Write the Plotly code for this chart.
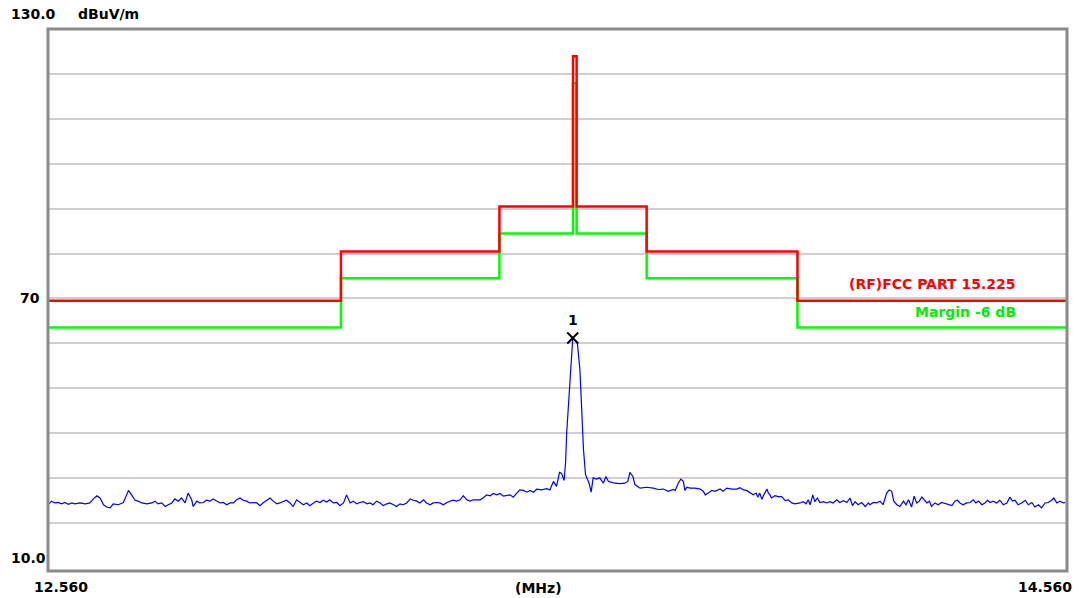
import plotly.graph_objects as go

# ---------------- data ----------------
freq_mhz = [
    12.560, 12.567, 12.574, 12.580, 12.587, 12.593, 12.600, 12.607, 12.613, 12.623,
    12.633, 12.642, 12.649, 12.656, 12.662, 12.669, 12.675, 12.682, 12.688, 12.698,
    12.708, 12.714, 12.718, 12.724, 12.731, 12.737, 12.744, 12.754, 12.764, 12.770,
    12.776, 12.783, 12.790, 12.796, 12.803, 12.809, 12.816, 12.822, 12.829, 12.835,
    12.842, 12.845, 12.852, 12.858, 12.865, 12.871, 12.878, 12.884, 12.891, 12.898,
    12.904, 12.911, 12.917, 12.924, 12.930, 12.937, 12.943, 12.950, 12.956, 12.963,
    12.970, 12.976, 12.983, 12.989, 12.996, 13.002, 13.009, 13.015, 13.022, 13.028,
    13.035, 13.041, 13.048, 13.055, 13.061, 13.068, 13.074, 13.081, 13.087, 13.094,
    13.100, 13.107, 13.113, 13.120, 13.127, 13.133, 13.140, 13.146, 13.153, 13.159,
    13.166, 13.172, 13.179, 13.186, 13.192, 13.198, 13.205, 13.212, 13.218, 13.225,
    13.231, 13.238, 13.244, 13.251, 13.257, 13.264, 13.271, 13.277, 13.284, 13.290,
    13.297, 13.303, 13.310, 13.316, 13.323, 13.329, 13.336, 13.343, 13.349, 13.355,
    13.362, 13.369, 13.375, 13.382, 13.388, 13.395, 13.401, 13.408, 13.414, 13.421,
    13.428, 13.434, 13.441, 13.447, 13.454, 13.460, 13.467, 13.473, 13.480, 13.486,
    13.493, 13.500, 13.506, 13.513, 13.519, 13.529, 13.539, 13.545, 13.552, 13.558,
    13.564, 13.568, 13.573, 13.576, 13.578, 13.581, 13.585, 13.588, 13.590, 13.594,
    13.599, 13.604, 13.608, 13.611, 13.615, 13.619, 13.622, 13.626, 13.630, 13.637,
    13.643, 13.650, 13.655, 13.660, 13.666, 13.673, 13.683, 13.692, 13.698, 13.702,
    13.708, 13.712, 13.722, 13.735, 13.748, 13.758, 13.768, 13.777, 13.787, 13.791,
    13.797, 13.802, 13.807, 13.810, 13.814, 13.820, 13.830, 13.840, 13.846, 13.850,
    13.856, 13.863, 13.869, 13.879, 13.885, 13.892, 13.902, 13.912, 13.918, 13.925,
    13.931, 13.938, 13.944, 13.950, 13.953, 13.957, 13.961, 13.965, 13.971, 13.974,
    13.977, 13.980, 13.987, 13.993, 14.000, 14.007, 14.013, 14.020, 14.026, 14.036,
    14.042, 14.048, 14.052, 14.056, 14.061, 14.065, 14.070, 14.075, 14.082, 14.088,
    14.095, 14.101, 14.108, 14.114, 14.121, 14.128, 14.134, 14.139, 14.144, 14.150,
    14.157, 14.164, 14.170, 14.173, 14.180, 14.186, 14.193, 14.199, 14.206, 14.211,
    14.216, 14.220, 14.226, 14.232, 14.239, 14.244, 14.249, 14.255, 14.260, 14.265,
    14.270, 14.275, 14.279, 14.285, 14.290, 14.294, 14.301, 14.307, 14.314, 14.321,
    14.327, 14.334, 14.340, 14.345, 14.350, 14.356, 14.363, 14.370, 14.376, 14.381,
    14.386, 14.393, 14.399, 14.404, 14.409, 14.415, 14.422, 14.428, 14.435, 14.442,
    14.448, 14.453, 14.458, 14.464, 14.471, 14.478, 14.484, 14.491, 14.497, 14.504,
    14.510, 14.517, 14.523, 14.530, 14.534, 14.540, 14.546, 14.553, 14.557,
]

level_dbuv = [
    24.0, 24.8, 24.4, 24.5, 24.2, 24.5, 24.1, 24.4, 24.2, 24.4,
    24.2, 24.4, 25.3, 26.0, 25.5, 24.0, 23.5, 23.3, 24.2, 24.0,
    24.5, 25.9, 27.2, 26.2, 25.0, 24.8, 24.4, 24.2, 24.4, 24.8,
    24.2, 24.4, 23.6, 24.0, 24.4, 25.3, 24.8, 25.5, 24.4, 26.6,
    25.1, 23.6, 24.8, 24.4, 24.5, 25.0, 24.8, 25.3, 24.8, 24.4,
    24.5, 24.0, 24.4, 24.4, 25.1, 25.5, 25.0, 24.8, 24.4, 24.5,
    24.4, 23.8, 24.5, 25.0, 25.5, 24.8, 24.2, 24.4, 24.8, 25.0,
    24.4, 23.6, 25.1, 24.4, 24.0, 24.4, 23.8, 24.4, 24.8, 24.5,
    25.0, 24.6, 25.1, 24.4, 24.5, 23.8, 24.4, 26.2, 24.4, 24.8,
    24.2, 24.5, 24.7, 24.2, 24.4, 24.0, 24.8, 24.4, 23.8, 24.2,
    24.4, 24.0, 23.6, 24.2, 24.0, 24.4, 25.3, 25.0, 24.8, 24.4,
    25.1, 24.4, 24.0, 24.4, 24.5, 24.4, 24.0, 24.5, 24.8, 25.0,
    24.8, 25.1, 26.0, 25.1, 24.8, 25.1, 25.1, 25.1, 25.5, 26.2,
    26.0, 26.5, 26.2, 26.5, 25.9, 26.0, 26.2, 25.7, 26.5, 27.3,
    27.2, 26.8, 27.2, 26.8, 27.5, 27.3, 27.6, 27.3, 29.2, 28.1,
    31.2, 31.0, 29.4, 33.7, 40.0, 45.9, 51.5, 57.8, 61.2, 60.7,
    60.0, 54.1, 45.2, 36.3, 30.7, 29.6, 28.8, 26.8, 30.0, 29.7,
    30.0, 28.8, 30.3, 29.2, 29.0, 28.8, 28.7, 28.8, 29.2, 31.2,
    30.3, 28.5, 27.7, 27.9, 27.7, 27.4, 27.5, 27.0, 27.4, 27.2,
    28.8, 29.7, 29.2, 27.2, 27.9, 27.7, 27.7, 27.5, 27.0, 26.2,
    26.6, 27.2, 27.0, 27.5, 27.0, 27.7, 27.5, 27.5, 27.8, 27.3,
    27.2, 26.6, 26.2, 26.6, 25.7, 26.6, 25.2, 26.2, 27.5, 26.6,
    26.2, 25.5, 26.0, 25.8, 25.8, 24.9, 25.1, 24.4, 24.2, 24.4,
    24.7, 24.2, 25.1, 24.0, 26.2, 24.7, 25.5, 24.5, 24.7, 24.4,
    24.7, 24.4, 25.1, 24.5, 24.9, 24.5, 25.5, 23.8, 24.7, 24.0,
    24.5, 23.6, 24.4, 24.0, 24.5, 24.4, 24.8, 24.0, 26.6, 27.3,
    27.0, 24.8, 24.0, 23.6, 24.8, 24.0, 25.1, 23.5, 25.9, 24.4,
    24.8, 25.7, 25.1, 24.4, 24.8, 23.6, 24.4, 24.0, 24.5, 24.2,
    24.0, 23.8, 24.8, 25.0, 24.4, 24.0, 24.4, 24.5, 25.1, 24.4,
    24.8, 24.0, 24.4, 25.0, 24.5, 24.8, 24.4, 25.0, 24.0, 24.4,
    25.7, 24.8, 25.0, 24.0, 24.4, 25.0, 24.0, 24.5, 23.5, 24.0,
    23.3, 24.4, 24.5, 25.0, 25.5, 24.4, 24.8, 24.4, 24.5,
]

# FCC Part 15.225 limit (step edges) and margin line
limit_freq = [12.560, 13.135, 13.446, 13.5905, 13.5975, 13.735, 14.031, 14.560]
limit_level = [69.5, 80.5, 90.5, 124.0, 90.5, 80.5, 69.5, 69.5]
margin_db = 6.0
margin_level = [v - margin_db for v in limit_level]

marker_freq = [13.590]
marker_level = [61.2]
marker_label = ["1"]

x_start, x_stop = 12.560, 14.560
y_bottom, y_top = 10.0, 130.0
grid_levels = [20, 30, 40, 50, 60, 70, 80, 90, 100, 110, 120]

limit_name = "(RF)FCC PART 15.225"
margin_name = "Margin -6 dB"
y_unit = "dBuV/m"
x_unit = "(MHz)"

assert len(freq_mhz) == len(level_dbuv)

# ---------------- figure ----------------
FONT = "DejaVu Sans"
fig = go.Figure()

fig.add_trace(go.Scatter(
    x=limit_freq, y=margin_level, mode="lines", line_shape="hv",
    line=dict(color="#00ff00", width=2.5), hoverinfo="skip"))
fig.add_trace(go.Scatter(
    x=limit_freq, y=limit_level, mode="lines", line_shape="hv",
    line=dict(color="#ff0000", width=2.5), hoverinfo="skip"))
fig.add_trace(go.Scatter(
    x=freq_mhz, y=level_dbuv, mode="lines",
    line=dict(color="#0000ff", width=1.2)))
fig.add_trace(go.Scatter(
    x=marker_freq, y=marker_level, mode="markers",
    marker=dict(symbol="x-thin", size=11, color="black",
                line=dict(width=2, color="black"))))

def lbl(text, x, y, xanchor, color="black", xref="paper", yref="paper", yshift=0):
    fig.add_annotation(text="<b>" + text + "</b>", x=x, y=y, xref=xref, yref=yref,
                       xanchor=xanchor, yanchor="middle", showarrow=False,
                       yshift=yshift,
                       font=dict(family=FONT, size=14, color=color))

lbl(f"{y_top:.1f}", -0.038, 1.0277, "left")
lbl(y_unit, 0.0275, 1.0277, "left")
lbl("70", -0.0054, 70, "right", yref="y")
lbl(f"{y_bottom:.1f}", -0.038, 0.0245, "left")
lbl(f"{x_start:.3f}", -0.016, -0.029, "left")
lbl(x_unit, 0.4812, -0.0308, "center")
lbl(f"{x_stop:.3f}", 1.0069, -0.029, "right")
lbl(limit_name, 0.9522, 0.529, "right", color="#ff0000")
lbl(margin_name, 0.9522, 0.4784, "right", color="#00ee00")
for f, v, t in zip(marker_freq, marker_level, marker_label):
    lbl(t, f, v, "center", xref="x", yref="y", yshift=18)

fig.add_shape(type="rect", xref="paper", yref="paper", x0=0, y0=0, x1=1, y1=1,
              line=dict(color="#8a8a8a", width=3), layer="above")

# the page body has an 8 px margin, so the figure is 8 px smaller and margins are reduced
fig.update_layout(
    width=1075, height=590,
    margin=dict(l=40, r=16, t=21, b=27, pad=0),
    paper_bgcolor="white", plot_bgcolor="white",
    showlegend=False,
    xaxis=dict(range=[x_start, x_stop], showgrid=False, zeroline=False,
               showticklabels=False, showline=False, ticks=""),
    yaxis=dict(range=[9.22, 130.1], tickmode="array", tickvals=grid_levels,
               showgrid=True, gridcolor="#cfcfcf", gridwidth=1.5,
               zeroline=False, showticklabels=False, showline=False, ticks=""),
)

fig.write_html("out.html")
